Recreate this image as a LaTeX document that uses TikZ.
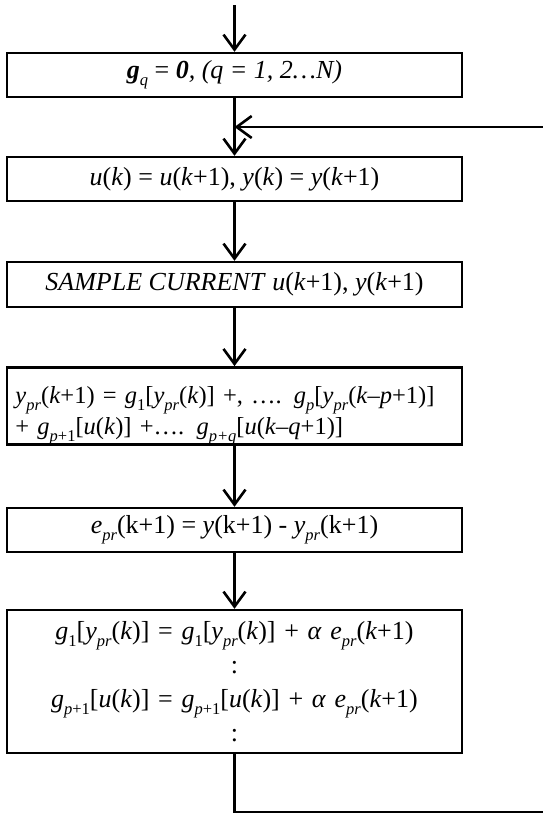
\documentclass[tikz,border=0pt]{standalone}
\usepackage{fontspec}
\setmainfont{Liberation Serif}
\usetikzlibrary{arrows.meta}
\newcommand{\lsub}[1]{\raisebox{-0.28em}{\fontsize{16.5}{16.5}\selectfont #1}}
\newcommand{\vi}[1]{\textit{#1}}
\tikzset{
  stepbox/.style={draw, line width=2.4pt, minimum width=455pt, inner sep=4pt,
    font=\fontsize{26}{32}\selectfont},
  flow/.style={line width=2.6pt, -{Straight Barb[length=15pt,width=22pt]}},
  plain/.style={line width=2.6pt}
}
\begin{document}
\begin{tikzpicture}[x=1pt,y=-1pt]
\useasboundingbox (0,0) rectangle (543,815);
\clip (0,0) rectangle (543,815);
\node[stepbox, minimum height=44pt] (b1) at (234.5,75)
  {{\bfseries\itshape g}\lsub{\itshape q} = {\bfseries\itshape 0}{\itshape, (q = 1, 2…N)}};
\node[stepbox, minimum height=44pt] (b2) at (234.5,179)
  {\vi{u}(\vi{k}) = \vi{u}(\vi{k}+1), \vi{y}(\vi{k}) = \vi{y}(\vi{k}+1)};
\node[stepbox, minimum height=45pt] (b3) at (234.5,284.5)
  {\vi{SAMPLE CURRENT} \vi{u}(\vi{k}+1), \vi{y}(\vi{k}+1)};
\node[stepbox, minimum height=76pt, inner ysep=0pt, text width=438pt, align=left, font=\fontsize{24.5}{31}\selectfont] (b4) at (234.5,406)
  {\rule{0pt}{36pt}\vi{y}\lsub{\vi{pr}}(\vi{k}+1) = \vi{g}\lsub{1}[\vi{y}\lsub{\vi{pr}}(\vi{k})] +, …. \vi{g}\lsub{\vi{p}}[\vi{y}\lsub{\vi{pr}}(\vi{k}–\vi{p}+1)]\\
   + \vi{g}\lsub{\vi{p}+1}[\vi{u}(\vi{k})] +…. \vi{g}\lsub{\vi{p+q}}[\vi{u}(\vi{k}–\vi{q}+1)]};
\node[stepbox, minimum height=44pt] (b5) at (234.5,530)
  {\vi{e}\lsub{\vi{pr}}(k+1) = \vi{y}(k+1) - \vi{y}\lsub{\vi{pr}}(k+1)};
\node[stepbox, minimum height=143pt, text width=440pt, align=center, font=\fontsize{26}{34}\selectfont] (b6) at (234.5,681.5)
  {\vi{g}\lsub{1}[\vi{y}\lsub{\vi{pr}}(\vi{k})] = \vi{g}\lsub{1}[\vi{y}\lsub{\vi{pr}}(\vi{k})] + \vi{α} \vi{e}\lsub{\vi{pr}}(\vi{k}+1)\\
   :\\
   \vi{g}\lsub{\vi{p}+1}[\vi{u}(\vi{k})] = \vi{g}\lsub{\vi{p}+1}[\vi{u}(\vi{k})] + \vi{α} \vi{e}\lsub{\vi{pr}}(\vi{k}+1)\\
   :};
\coordinate (start) at (234.5,5);
\coordinate (join) at (234.5,127);
\coordinate (loopdown) at (570,812);
\coordinate (loopup) at (570,127);
\draw[flow] (start) -- (b1.north);
\draw[flow] (b1.south) -- (b2.north);
\draw[flow] (b2.south) -- (b3.north);
\draw[flow] (b3.south) -- (b4.north);
\draw[flow] (b4.south) -- (b5.north);
\draw[flow] (b5.south) -- (b6.north);
\draw[plain] (b6.south) |- (loopdown) -- (loopup);
\draw[flow] (loopup) -- (join);
\end{tikzpicture}
\end{document}
